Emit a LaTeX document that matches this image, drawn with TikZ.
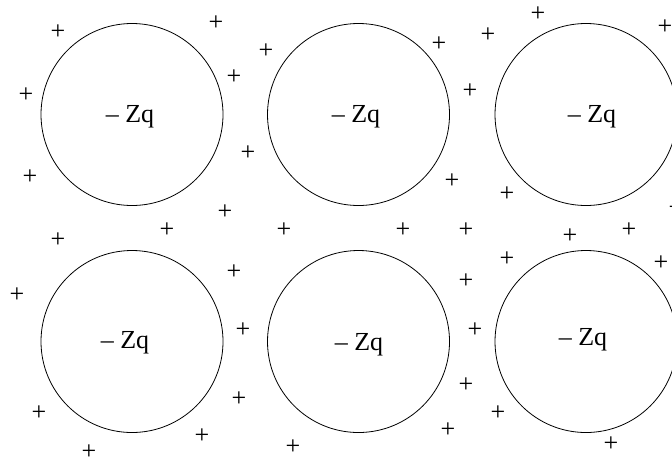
\documentclass[tikz,border=0pt]{standalone}
\usepackage{fontspec}
\setmainfont{Liberation Serif}
\usetikzlibrary{positioning}

\begin{document}
\begin{tikzpicture}[x=0.5pt, y=-0.5pt, every node/.style={font=\fontsize{13}{15}\selectfont}]
        \tikzset{ion/.style={draw, circle, minimum size=91pt, inner sep=0pt},
                 charge/.style={inner sep=0pt}}
        \useasboundingbox (0,0) rectangle (672,461);
        % Ions, top row
        \node[ion] (ion1) at (132,114.5) {};
        \node[ion] (ion2) at (358.5,114.5) {};
        \node[ion] (ion3) at (586,114.5) {};
        % Ions, bottom row
        \node[ion] (ion4) at (132,341.5) {};
        \node[ion] (ion5) at (358.5,341.5) {};
        \node[ion] (ion6) at (586,341.5) {};
        % Ion charges
        \node (q1) at (130,117) {-- Zq};
        \node (q2) at (356,117) {-- Zq};
        \node (q3) at (592,117) {-- Zq};
        \node (q4) at (125,343) {-- Zq};
        \node (q5) at (359,345) {-- Zq};
        \node (q6) at (583,340) {-- Zq};
        % Free positive charges
        \foreach \x/\y [count=\i] in {58/32, 216/23, 266/51, 234/77, 26/95, 248/153, 30/177, 225/212,
                538/14, 488/35, 439/44, 470/91, 452/181, 507/194, 665/27, 676/208,
                58/240, 167/230, 284/230, 403/230, 466/230, 570/236, 629/230,
                17/295, 234/272, 243/330, 239/399, 39/413, 202/436, 89/452, 293/447,
                507/259, 661/263, 466/281, 475/330, 466/385, 498/413, 448/430, 611/444}
            \node[charge] (p\i) at (\x,\y) {+};
    \end{tikzpicture}
\end{document}
